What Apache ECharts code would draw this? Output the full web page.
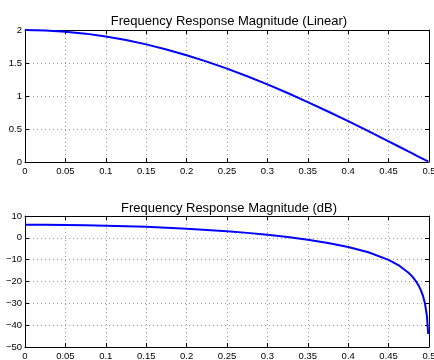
<!DOCTYPE html>
<html>
<head>
<meta charset="utf-8">
<script src="https://cdn.jsdelivr.net/npm/echarts@6/dist/echarts.min.js"></script>
<style>
  html, body { margin: 0; padding: 0; background: #fff; }
  #chart { width: 434px; height: 360px; }
</style>
</head>
<body>
<div id="chart"></div>
<script>
// values (normalized frequency, magnitude)
const freq = [0, 0.025, 0.05, 0.075, 0.1, 0.125, 0.15, 0.175, 0.2, 0.225, 0.25,
  0.275, 0.3, 0.325, 0.35, 0.375, 0.4, 0.425, 0.45, 0.4625, 0.475, 0.48,
  0.485, 0.4875, 0.49, 0.4925, 0.495, 0.4975, 0.499];
const magLinear = [2, 1.994, 1.975, 1.945, 1.902, 1.848, 1.782, 1.705, 1.618, 1.521, 1.414,
  1.299, 1.176, 1.045, 0.908, 0.765, 0.618, 0.467, 0.313, 0.235, 0.157, 0.126,
  0.094, 0.079, 0.063, 0.047, 0.031, 0.016, 0.006];
const magDb = [6.02, 5.99, 5.91, 5.78, 5.59, 5.33, 5.02, 4.64, 4.18, 3.64, 3.01,
  2.27, 1.41, 0.38, -0.84, -2.32, -4.18, -6.62, -10.09, -12.58, -16.09, -18.02,
  -20.52, -22.10, -24.04, -26.54, -30.06, -36.08, -44.04];
const titles = ['Frequency Response Magnitude (Linear)', 'Frequency Response Magnitude (dB)'];

const font = 'Liberation Sans, Arial, Helvetica, sans-serif';
const chart = echarts.init(document.getElementById('chart'));

const fmtNum = v => String(v).replace('-', '\u2212');

const boxLine = { show: true, onZero: false, lineStyle: { color: '#000', width: 1 } };
const tick = { show: true, inside: true, length: 4, lineStyle: { color: '#000' } };
const dotted = { show: true, lineStyle: { color: '#999', type: [1, 3], width: 1 } };

function mainX(gi) {
  return {
    type: 'value', gridIndex: gi, min: 0, max: 0.5, interval: 0.05,
    axisLine: boxLine, axisTick: tick,
    axisLabel: { color: '#000', fontSize: 9.5, fontFamily: font, margin: 4, formatter: fmtNum },
    splitLine: dotted
  };
}
function topX(gi) {
  return {
    type: 'value', gridIndex: gi, position: 'top', min: 0, max: 0.5, interval: 0.05,
    axisLine: boxLine, axisTick: tick,
    axisLabel: { show: false }, splitLine: { show: false }
  };
}
function mainY(gi, min, max, interval) {
  return {
    type: 'value', gridIndex: gi, min: min, max: max, interval: interval,
    axisLine: boxLine, axisTick: tick,
    axisLabel: { color: '#000', fontSize: 9.5, fontFamily: font, margin: 3, formatter: fmtNum },
    splitLine: dotted
  };
}
function rightY(gi, min, max, interval) {
  return {
    type: 'value', gridIndex: gi, position: 'right', min: min, max: max, interval: interval,
    axisLine: boxLine, axisTick: tick,
    axisLabel: { show: false }, splitLine: { show: false }
  };
}

chart.setOption({
  animation: false,
  backgroundColor: '#fff',
  title: [
    { text: titles[0], left: 224, top: 10, textAlign: 'center',
      textStyle: { fontSize: 13, fontWeight: 'normal', color: '#000', fontFamily: font } },
    { text: titles[1], left: 224, top: 197, textAlign: 'center',
      textStyle: { fontSize: 13, fontWeight: 'normal', color: '#000', fontFamily: font } }
  ],
  grid: [
    { left: 25, right: 5, top: 30, height: 132, containLabel: false, outerBoundsMode: 'none' },
    { left: 25, right: 5, top: 216, height: 131, containLabel: false, outerBoundsMode: 'none' }
  ],
  xAxis: [mainX(0), topX(0), mainX(1), topX(1)],
  yAxis: [mainY(0, 0, 2, 0.5), rightY(0, 0, 2, 0.5), mainY(1, -50, 10, 10), rightY(1, -50, 10, 10)],
  series: [
    {
      type: 'line', xAxisIndex: 0, yAxisIndex: 0, showSymbol: false, clip: false,
      data: freq.map((f, i) => [f, magLinear[i]]),
      lineStyle: { color: '#0000ff', width: 2 }
    },
    {
      type: 'line', xAxisIndex: 2, yAxisIndex: 2, showSymbol: false,
      data: freq.map((f, i) => [f, magDb[i]]),
      lineStyle: { color: '#0000ff', width: 2 }
    }
  ]
});
</script>
</body>
</html>
